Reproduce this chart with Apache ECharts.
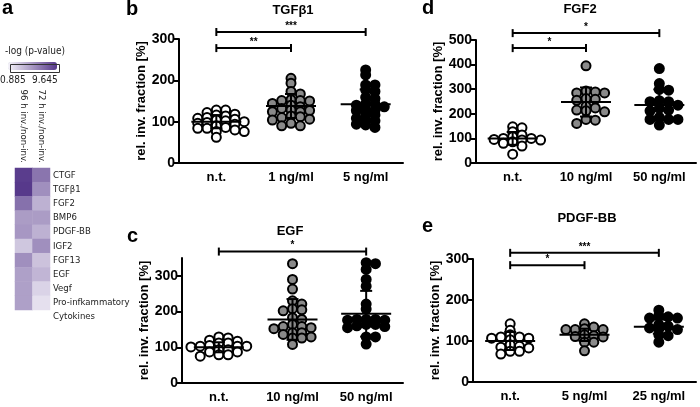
<!DOCTYPE html>
<html lang="en">
<head>
<meta charset="UTF-8">
<title>Growth factors and invasion</title>
<script src="https://cdn.jsdelivr.net/npm/echarts@6/dist/echarts.min.js"></script>
<style>
  html, body { margin: 0; padding: 0; background: #fff; }
  #chart { width: 700px; height: 407px; }
</style>
</head>
<body>
<div id="chart"></div>
<script>
// a: heatmap, -log(p-value)
var heatGenes = ['CTGF', 'TGFβ1', 'FGF2', 'BMP6', 'PDGF-BB', 'IGF2', 'FGF13', 'EGF', 'Vegf', '\nPro-infkammatory\nCytokines'];
var heatCols = ['96 h inv./non-inv.', '72 h inv./non-inv.'];
var heat96 = [9.4, 9.6, 7.0, 5.0, 5.2, 3.0, 5.6, 4.8, 4.8, 4.8];
var heat72 = [6.8, 5.6, 4.0, 5.0, 4.0, 5.6, 3.2, 3.8, 2.4, 1.8];
var heatMin = 0.885, heatMax = 9.645;

// b: TGFβ1
var tgfCats = ['n.t.', '1 ng/ml', '5 ng/ml'];
var tgfNt = [128, 128, 122, 118, 116, 114, 110, 108, 106, 104, 102, 100, 98, 96, 94, 90, 86, 84, 84, 80, 76, 76, 62];
var tgfLow = [205, 193, 173, 167, 153, 151, 151, 150, 144, 140, 136, 132, 128, 127, 124, 124, 114, 112, 110, 106, 104, 96, 90, 90];
var tgfHigh = [225, 213, 189, 189, 177, 173, 159, 156, 143, 143, 140, 136, 130, 127, 127, 118, 116, 108, 104, 102, 94, 92, 86];
var tgfMean = [100, 138, 142];
var tgfSd = [16, 29, 36];
var tgfSig = [[0, 2, 317], [0, 1, 278]];
var tgfStars = ['***', '**'];

// d: FGF2
var fgfCats = ['n.t.', '10 ng/ml', '50 ng/ml'];
var fgfNt = [147, 143, 127, 114, 107, 100, 100, 96, 93, 93, 86, 80, 69, 36];
var fgfLow = [395, 293, 289, 285, 285, 262, 259, 255, 231, 224, 215, 212, 208, 177, 174, 161];
var fgfHigh = [384, 323, 299, 296, 253, 249, 249, 235, 222, 215, 212, 185, 177, 177, 177, 154];
var fgfMean = [100, 248, 236];
var fgfSd = [26, 59, 63];
var fgfSig = [[0, 2, 528], [0, 1, 467]];
var fgfStars = ['*', '*'];

// c: EGF
var egfCats = ['n.t.', '10 ng/ml', '50 ng/ml'];
var egfNt = [129, 126, 120, 117, 112, 112, 105, 103, 103, 103, 101, 93, 93, 87, 87, 79, 79, 75];
var egfLow = [334, 290, 263, 230, 221, 208, 205, 202, 183, 178, 164, 158, 158, 155, 152, 141, 141, 136, 129, 126, 126, 108];
var egfHigh = [337, 334, 318, 290, 271, 221, 207, 178, 178, 178, 176, 176, 164, 164, 160, 158, 155, 129, 129, 109];
var egfMean = [100, 178, 194];
var egfSd = [14, 57, 64];
var egfSig = [[0, 2, 368]];
var egfStars = ['*'];

// e: PDGF-BB
var pdgfCats = ['n.t.', '5 ng/ml', '25 ng/ml'];
var pdgfNt = [142, 126, 115, 110, 110, 107, 107, 103, 91, 87, 85, 83, 75, 75, 68];
var pdgfLow = [142, 134, 130, 128, 128, 128, 115, 113, 111, 110, 97, 97, 76];
var pdgfHigh = [175, 162, 159, 156, 156, 140, 136, 132, 129, 128, 115, 113, 97];
var pdgfMean = [100, 115, 135];
var pdgfSd = [22, 15, 17];
var pdgfSig = [[0, 2, 315], [0, 1, 285]];
var pdgfStars = ['***', '*'];

var narrow = '"Liberation Sans Narrow", "Liberation Sans", Arial, sans-serif';
var sans = '"Liberation Sans", Arial, sans-serif';
var smallFont = '"Liberation Sans Narrow", "DejaVu Sans Condensed", "Noto Sans", sans-serif';
var dotFills = ['#ffffff', '#8a8a8a', '#000000'];

var panels = [
  { grid: 1, title: 'TGFβ1', cats: tgfCats, groups: [tgfNt, tgfLow, tgfHigh], mean: tgfMean, sd: tgfSd, sig: tgfSig, stars: tgfStars, max: 300, nameGap: 24 },
  { grid: 2, title: 'FGF2', cats: fgfCats, groups: [fgfNt, fgfLow, fgfHigh], mean: fgfMean, sd: fgfSd, sig: fgfSig, stars: fgfStars, max: 500, nameGap: 30 },
  { grid: 3, title: 'EGF', cats: egfCats, groups: [egfNt, egfLow, egfHigh], mean: egfMean, sd: egfSd, sig: egfSig, stars: egfStars, max: 350, nameGap: 30 },
  { grid: 4, title: 'PDGF-BB', cats: pdgfCats, groups: [pdgfNt, pdgfLow, pdgfHigh], mean: pdgfMean, sd: pdgfSd, sig: pdgfSig, stars: pdgfStars, max: 300, nameGap: 30 }
];

var grids = [
  { left: 15, top: 168, width: 35, height: 142 },
  { left: 179, top: 39, right: 297, bottom: 244 },
  { left: 476, top: 40, right: 4, bottom: 244 },
  { left: 182, top: 258, right: 297, bottom: 24 },
  { left: 473, top: 259, right: 4, bottom: 25 }
];

var titles = [
  { text: 'a', left: 2, top: -2, fs: 20 },
  { text: 'b', left: 126, top: -1, fs: 20 },
  { text: 'd', left: 422, top: -2, fs: 20 },
  { text: 'c', left: 127, top: 226, fs: 20 },
  { text: 'e', left: 422, top: 216, fs: 20 },
  { text: 'TGFβ1', left: 293, top: 4, fs: 13, center: true },
  { text: 'FGF2', left: 580, top: 3, fs: 13, center: true },
  { text: 'EGF', left: 290, top: 225, fs: 13, center: true },
  { text: 'PDGF-BB', left: 587, top: 212, fs: 13, center: true }
];

function statsItem(params, api) {
  var x = api.value(0), m = api.value(1), s = api.value(2);
  var c = api.coord([x, m]);
  var t = api.coord([x, m + s]);
  var b = api.coord([x, m - s]);
  var st = { stroke: '#000', lineWidth: 2 };
  return {
    type: 'group',
    children: [
      { type: 'line', shape: { x1: c[0] - 25, y1: c[1], x2: c[0] + 25, y2: c[1] }, style: st },
      { type: 'line', shape: { x1: c[0], y1: t[1], x2: c[0], y2: b[1] }, style: st },
      { type: 'line', shape: { x1: c[0] - 6, y1: t[1], x2: c[0] + 6, y2: t[1] }, style: st },
      { type: 'line', shape: { x1: c[0] - 6, y1: b[1], x2: c[0] + 6, y2: b[1] }, style: st }
    ]
  };
}

function sigItem(stars) {
  return function (params, api) {
    var a = api.coord([api.value(0), api.value(2)]);
    var b = api.coord([api.value(1), api.value(2)]);
    var st = { stroke: '#000', lineWidth: 2 };
    return {
      type: 'group',
      children: [
        { type: 'line', shape: { x1: a[0], y1: a[1], x2: b[0], y2: b[1] }, style: st },
        { type: 'line', shape: { x1: a[0], y1: a[1] - 4, x2: a[0], y2: a[1] + 4 }, style: st },
        { type: 'line', shape: { x1: b[0], y1: b[1] - 4, x2: b[0], y2: b[1] + 4 }, style: st },
        { type: 'text', x: (a[0] + b[0]) / 2, y: a[1] - 1,
          style: { text: stars[params.dataIndex], align: 'center', verticalAlign: 'bottom', font: 'bold 10px ' + sans, fill: '#000' } }
      ]
    };
  };
}

var xAxes = [{
  gridIndex: 0, type: 'category', data: heatCols, position: 'top',
  axisLine: { show: false }, axisTick: { show: false },
  axisLabel: { rotate: 90, margin: 5, fontSize: 9.5, color: '#222', fontFamily: smallFont }
}];
var yAxes = [{
  gridIndex: 0, type: 'category', inverse: true, position: 'right', data: heatGenes,
  axisLine: { show: false }, axisTick: { show: false },
  axisLabel: { interval: 0, margin: 3, fontSize: 9.5, lineHeight: 14, color: '#222', fontFamily: smallFont }
}];

var heatData = [];
heatGenes.forEach(function (g, i) {
  heatData.push([0, i, heat96[i]]);
  heatData.push([1, i, heat72[i]]);
});

var series = [{
  type: 'heatmap', xAxisIndex: 0, yAxisIndex: 0, data: heatData,
  itemStyle: { borderWidth: 0 }, emphasis: { disabled: true }
}];

var scatterMeta = [];

panels.forEach(function (p, pi) {
  var ax = pi + 1;
  xAxes.push({
    gridIndex: p.grid, type: 'category', data: p.cats,
    axisLine: { lineStyle: { color: '#000', width: 2 } },
    axisTick: { alignWithLabel: true, length: 5, lineStyle: { color: '#000', width: 2 } },
    axisLabel: { margin: 8, fontSize: 13, fontWeight: 'bold', color: '#000', fontFamily: sans }
  });
  var yAx = {
    gridIndex: p.grid, type: 'value', min: 0, max: p.max, interval: 100,
    name: 'rel. inv. fraction [%]', nameLocation: 'middle', nameGap: p.nameGap,
    nameTextStyle: { fontSize: 13, fontWeight: 'bold', color: '#000', fontFamily: sans },
    axisLine: { show: true, lineStyle: { color: '#000', width: 2 } },
    axisTick: { show: true, length: 5, lineStyle: { color: '#000', width: 2 } },
    axisLabel: { margin: 4, fontSize: 14, fontWeight: 'bold', color: '#000', fontFamily: narrow },
    splitLine: { show: false }
  };
  if (p.max % 100 !== 0) {
    yAx.interval = 50;
    yAx.axisLabel.customValues = [0, 100, 200, 300];
    yAx.axisTick.customValues = [0, 100, 200, 300];
  }
  yAxes.push(yAx);

  p.groups.forEach(function (vals, gi) {
    scatterMeta.push({ index: series.length, cat: gi, vals: vals });
    series.push({
      type: 'scatter', xAxisIndex: ax, yAxisIndex: ax, symbol: 'circle', symbolSize: 9,
      itemStyle: { color: dotFills[gi], borderColor: '#000', borderWidth: 2, opacity: 1 },
      data: vals.map(function (v) { return [gi, v]; }),
      emphasis: { disabled: true }, z: 2
    });
  });

  series.push({
    type: 'custom', xAxisIndex: ax, yAxisIndex: ax, renderItem: statsItem, z: 5,
    encode: { x: 0, y: 1 },
    data: p.mean.map(function (m, i) { return [i, m, p.sd[i]]; })
  });
  series.push({
    type: 'custom', xAxisIndex: ax, yAxisIndex: ax, renderItem: sigItem(p.stars), z: 5,
    encode: { x: [0, 1], y: 2 }, clip: false,
    data: p.sig
  });
});

var option = {
  animation: false,
  backgroundColor: '#fff',
  title: titles.map(function (t) {
    return {
      text: t.text, left: t.left, top: t.top, padding: 0,
      textAlign: t.center ? 'center' : 'left',
      textStyle: { fontSize: t.fs, fontWeight: 'bold', color: '#000', fontFamily: t.fs > 15 ? sans : narrow }
    };
  }),
  grid: grids,
  xAxis: xAxes,
  yAxis: yAxes,
  visualMap: {
    type: 'continuous', seriesIndex: 0, min: heatMin, max: heatMax,
    orient: 'horizontal', left: 8, top: 62, itemWidth: 8, itemHeight: 49,
    calculable: false, showLabel: false, text: ['', ''], padding: 0,
    inRange: { color: ['#f6f4fa', '#56388a'] }
  },
  graphic: [
    { type: 'rect', left: 8, top: 62, z: 100, shape: { width: 49, height: 8 }, style: { fill: 'none', stroke: '#333', lineWidth: 1 } },
    { type: 'text', left: 5, top: 46, style: { text: '-log (p-value)', font: '10px ' + smallFont, fill: '#222' } },
    { type: 'text', left: 0, top: 75, style: { text: '0.885', font: '10px ' + smallFont, fill: '#222' } },
    { type: 'text', left: 32, top: 75, style: { text: '9.645', font: '10px ' + smallFont, fill: '#222' } }
  ],
  series: series
};

var chart = echarts.init(document.getElementById('chart'));
chart.setOption(option);

// dot plot layout: dots sit in side-by-side columns; a dot goes to the
// innermost column where no other dot is too close above or below it
function dotColumns(ys, minDy, gap) {
  var order = ys.map(function (y, i) { return i; }).sort(function (a, b) { return ys[a] - ys[b]; });
  var cols = {};
  var out = [];
  order.forEach(function (i) {
    var y = ys[i];
    for (var k = 0; k < 40; k++) {
      var c = k === 0 ? 0 : (k % 2 ? (k + 1) / 2 : -k / 2);
      var taken = cols[c] || [];
      var free = taken.every(function (ty) { return Math.abs(ty - y) >= minDy; });
      if (free) {
        taken.push(y);
        cols[c] = taken;
        out[i] = c * gap;
        break;
      }
    }
  });
  return out;
}

scatterMeta.forEach(function (m) {
  var ys = m.vals.map(function (v) { return chart.convertToPixel({ seriesIndex: m.index }, [m.cat, v])[1]; });
  var xs = dotColumns(ys, 4.5, 9.3);
  series[m.index].data = m.vals.map(function (v, k) {
    return { value: [m.cat, v], symbolOffset: [xs[k], 0] };
  });
});
chart.setOption({ series: series });
</script>
</body>
</html>
